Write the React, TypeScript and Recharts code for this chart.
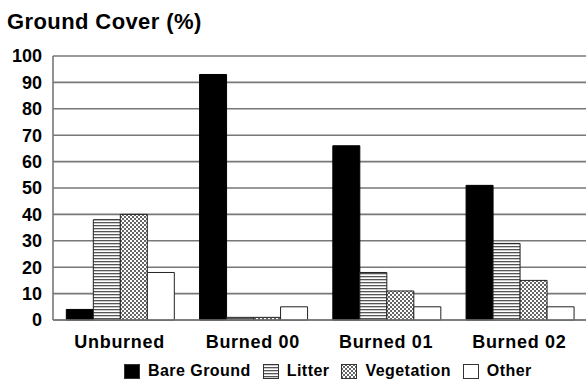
import React from "react";
import { Bar, BarChart, CartesianGrid, Legend, XAxis, YAxis } from "recharts";

const categories = ["Unburned", "Burned 00", "Burned 01", "Burned 02"];
const bareGround = [4, 93, 66, 51];
const litter = [38, 1, 18, 29];
const vegetation = [40, 1, 11, 15];
const other = [18, 5, 5, 5];
const yTicks = [0, 10, 20, 30, 40, 50, 60, 70, 80, 90, 100];

const data = categories.map((name, i) => ({
  name,
  bare: bareGround[i],
  litter: litter[i],
  vegetation: vegetation[i],
  other: other[i],
}));

const FONT = "'Liberation Sans', Arial, sans-serif";

const legendItems = [
  { label: "Bare Ground", fill: "#000" },
  { label: "Litter", fill: "url(#litterPattern)" },
  { label: "Vegetation", fill: "url(#vegPattern)" },
  { label: "Other", fill: "#fff" },
];

function LegendContent() {
  return (
    <div
      style={{
        display: "flex",
        alignItems: "center",
        paddingLeft: 124,
        fontFamily: FONT,
        fontWeight: "bold",
        fontSize: 16,
        letterSpacing: 0.45,
        color: "#000",
        height: 24,
      }}
    >
      {legendItems.map((it) => (
        <div key={it.label} style={{ display: "flex", alignItems: "center", marginRight: 12 }}>
          <svg width={16} height={15} style={{ marginRight: 8 }}>
            <rect x={0.5} y={0.5} width={15} height={14} fill={it.fill} stroke="#333" strokeWidth={1} />
          </svg>
          <span>{it.label}</span>
        </div>
      ))}
    </div>
  );
}

export default function App() {
  return (
    <div style={{ position: "absolute", left: 0, top: 0, width: 586, height: 379, background: "#fff" }}>
      <svg width={0} height={0} style={{ position: "absolute" }}>
        <defs>
          <pattern id="litterPattern" width={4} height={3} patternUnits="userSpaceOnUse">
            <rect width={4} height={3} fill="#fff" />
            <rect y={0} width={4} height={1.3} fill="#555" />
          </pattern>
          <pattern id="vegPattern" width={4} height={4} patternUnits="userSpaceOnUse">
            <rect width={4} height={4} fill="#fff" />
            <rect x={0} y={0} width={2} height={2} fill="#666" />
            <rect x={2} y={2} width={2} height={2} fill="#666" />
          </pattern>
        </defs>
      </svg>
      <div
        style={{
          position: "absolute",
          left: 7,
          top: 11,
          fontFamily: FONT,
          fontWeight: "bold",
          fontSize: 22,
          letterSpacing: 0.4,
          lineHeight: "22px",
          color: "#000",
        }}
      >
        Ground Cover (%)
      </div>
      <BarChart
        width={586}
        height={379}
        data={data}
        margin={{ top: 56, right: 0, bottom: 5, left: 0 }}
        barCategoryGap="10%"
        barGap={0}
      >
        <CartesianGrid vertical={false} stroke="#777" strokeWidth={1.6} />
        <XAxis
          dataKey="name"
          axisLine={{ stroke: "#777", strokeWidth: 1.6 }}
          tickLine={false}
          tickSize={0}
          tickMargin={15}
          height={30}
          interval={0}
          tick={{ fill: "#000", fontFamily: FONT, fontWeight: "bold", fontSize: 18, letterSpacing: 0.7 }}
        />
        <YAxis
          domain={[0, 100]}
          ticks={yTicks}
          interval={0}
          width={53}
          axisLine={{ stroke: "#777", strokeWidth: 1.6 }}
          tickLine={false}
          tickSize={0}
          tickMargin={11}
          tick={{ fill: "#000", fontFamily: FONT, fontWeight: "bold", fontSize: 18 }}
        />
        <Legend
          verticalAlign="bottom"
          content={<LegendContent />}
          wrapperStyle={{ left: 0, width: 586, bottom: -4 }}
        />
        <Bar dataKey="bare" fill="#000" stroke="#000" isAnimationActive={false} />
        <Bar dataKey="litter" fill="url(#litterPattern)" stroke="#222" isAnimationActive={false} />
        <Bar dataKey="vegetation" fill="url(#vegPattern)" stroke="#222" isAnimationActive={false} />
        <Bar dataKey="other" fill="#fff" stroke="#222" isAnimationActive={false} />
      </BarChart>
    </div>
  );
}
